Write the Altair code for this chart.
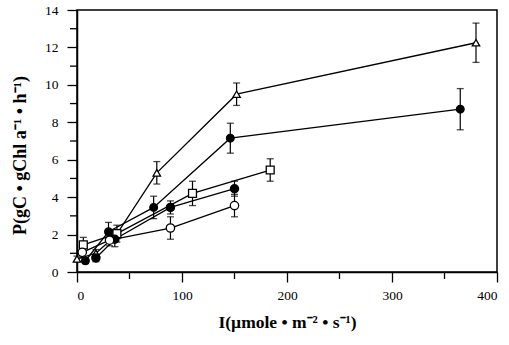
import altair as alt
import pandas as pd

# ---- data ----
tri_x = [0, 18, 37, 76, 152, 380]
tri_y = [0.7, 1.0, 1.95, 5.3, 9.5, 12.25]
tri_e = [0.15, 0.2, 0.3, 0.6, 0.6, 1.05]

big_x = [8, 30, 73, 146, 365]
big_y = [0.6, 2.15, 3.45, 7.15, 8.7]
big_e = [0.15, 0.5, 0.6, 0.8, 1.1]

sq_x = [6, 38, 110, 184]
sq_y = [1.45, 2.05, 4.2, 5.45]
sq_e = [0.4, 0.45, 0.65, 0.6]

fs_x = [18, 36, 89, 150]
fs_y = [0.75, 1.75, 3.45, 4.45]
fs_e = [0.2, 0.4, 0.35, 0.4]

oc_x = [5, 31, 89, 150]
oc_y = [1.05, 1.7, 2.35, 3.55]
oc_e = [0.3, 0.3, 0.6, 0.6]

series_names = ["tri", "big", "sq", "fs", "oc"]
series_shapes = ["triangle-up", "circle", "square", "circle", "circle"]
series_fill = ["white", "black", "white", "black", "white"]
series_size = [55, 70, 60, 50, 55]

y_major = [0, 2, 4, 6, 8, 10, 12, 14]
y_minor = [1, 3, 5, 7, 9, 11, 13]
x_major = [0, 100, 200, 300, 400]
x_minor = [50, 150, 250, 350]

rows = []
for name, xs, ys, es in [("tri", tri_x, tri_y, tri_e), ("big", big_x, big_y, big_e),
                         ("sq", sq_x, sq_y, sq_e), ("fs", fs_x, fs_y, fs_e),
                         ("oc", oc_x, oc_y, oc_e)]:
    for i, (x, y, e) in enumerate(zip(xs, ys, es)):
        rows.append({"s": name, "i": i, "x": x, "y": y, "lo": y - e, "hi": y + e})
df = pd.DataFrame(rows)

FONT = "Liberation Serif"
W, H = 420, 262

xscale = alt.Scale(domain=[0, 400], nice=False, zero=False)
yscale = alt.Scale(domain=[0, 14], nice=False, zero=False)

xaxis = alt.Axis(values=x_major, title="I(µmole • m⁻² • s⁻¹)", grid=False,
                 tickSize=10, tickWidth=1.3, domainWidth=1.5, domainColor="black",
                 tickColor="black", labelPadding=6, labelFontSize=13.5, labelFont=FONT,
                 labelColor="black", titleFont=FONT, titleFontSize=17.5,
                 titleFontWeight="bold", titleColor="black", titlePadding=12)
yaxis = alt.Axis(values=y_major, title="P(gC  •  gChl  a⁻¹  •  h⁻¹)", grid=False,
                 tickSize=10, tickWidth=1.3, domainWidth=1.5, domainColor="black",
                 tickColor="black", labelPadding=9, labelFontSize=13.5, labelFont=FONT,
                 labelColor="black", titleFont=FONT, titleFontSize=18,
                 titleFontWeight="bold", titleColor="black", titleX=-57, titleY=145,
                 titleBaseline="middle", titleAngle=270)

base = alt.Chart(df)

lines = base.mark_line(color="black", strokeWidth=1.3).encode(
    x=alt.X("x:Q", scale=xscale, axis=xaxis),
    y=alt.Y("y:Q", scale=yscale, axis=yaxis),
    detail="s:N",
    order="i:Q",
)

err = base.mark_rule(color="black", strokeWidth=1.2).encode(
    x=alt.X("x:Q", scale=xscale, axis=xaxis),
    y=alt.Y("lo:Q", scale=yscale, axis=yaxis),
    y2="hi:Q",
)
cap_lo = base.mark_tick(color="black", orient="horizontal", size=7, thickness=1.3).encode(
    x=alt.X("x:Q", scale=xscale, axis=xaxis), y=alt.Y("lo:Q", scale=yscale, axis=yaxis))
cap_hi = base.mark_tick(color="black", orient="horizontal", size=7, thickness=1.3).encode(
    x=alt.X("x:Q", scale=xscale, axis=xaxis), y=alt.Y("hi:Q", scale=yscale, axis=yaxis))

points = base.mark_point(filled=True, stroke="black", strokeWidth=1.3, opacity=1).encode(
    x=alt.X("x:Q", scale=xscale, axis=xaxis),
    y=alt.Y("y:Q", scale=yscale, axis=yaxis),
    shape=alt.Shape("s:N", scale=alt.Scale(domain=series_names, range=series_shapes), legend=None),
    fill=alt.Fill("s:N", scale=alt.Scale(domain=series_names, range=series_fill), legend=None),
    size=alt.Size("s:N", scale=alt.Scale(domain=series_names, range=series_size), legend=None),
)

ymin_df = pd.DataFrame({"v": y_minor})
xmin_df = pd.DataFrame({"v": x_minor})
ymin = alt.Chart(ymin_df).mark_rule(color="black", strokeWidth=1.3).encode(
    y=alt.Y("v:Q", scale=yscale, axis=yaxis),
    x=alt.value(-7), x2=alt.value(0),
)
xmin = alt.Chart(xmin_df).mark_rule(color="black", strokeWidth=1.3).encode(
    x=alt.X("v:Q", scale=xscale, axis=xaxis),
    y=alt.value(H), y2=alt.value(H + 7),
)

chart = alt.layer(lines, err, cap_lo, cap_hi, points, ymin, xmin).properties(
    width=W, height=H,
    autosize=alt.AutoSizeParams(type="none"),
    padding={"left": 77, "top": 10, "right": 12, "bottom": 73},
    background="white",
).configure_view(stroke="black", strokeWidth=1.5)

chart.save("out.html", embed_options={"renderer": "svg", "actions": False})
